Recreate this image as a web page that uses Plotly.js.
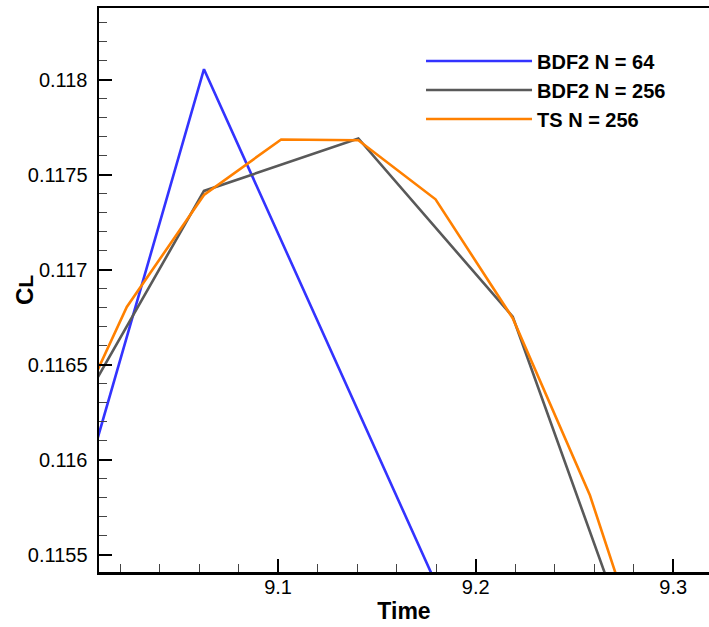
<!DOCTYPE html>
<html>
<head>
<meta charset="utf-8">
<script src="https://cdn.plot.ly/plotly-3.0.1.min.js"></script>
<style>
  html, body { margin: 0; padding: 0; background: #ffffff; }
  #chart { width: 709px; height: 627px; }
</style>
</head>
<body>
<div id="chart"></div>
<script>
// ---- data ----
const seriesNames = ['BDF2 N = 64', 'BDF2 N = 256', 'TS N = 256'];

const timeBDF2_64 = [8.9375, 9.0625, 9.1875];
const clBDF2_64   = [0.113544, 0.118056, 0.115173];

const timeBDF2_256 = [8.984375, 9.0625, 9.140625, 9.21875, 9.296875];
const clBDF2_256   = [0.115989, 0.117415, 0.117691, 0.116753, 0.114490];

const timeTS_256 = [8.984375, 9.0234375, 9.0625, 9.1015625, 9.140625, 9.1796875, 9.21875, 9.2578125, 9.296875];
const clTS_256   = [0.115925, 0.116804, 0.117394, 0.117686, 0.117682, 0.117371, 0.116745, 0.115813, 0.114578];

const xTickVals = [9.1, 9.2, 9.3];
const xTickText = ['9.1', '9.2', '9.3'];
const yTickVals = [0.1155, 0.116, 0.1165, 0.117, 0.1175, 0.118];
const yTickText = ['0.1155', '0.116', '0.1165', '0.117', '0.1175', '0.118'];

const colors = ['#3333ff', '#595959', '#ff8000'];

const traces = [
  { x: timeBDF2_64,  y: clBDF2_64,  name: seriesNames[0], mode: 'lines', line: { color: colors[0], width: 2.6 } },
  { x: timeBDF2_256, y: clBDF2_256, name: seriesNames[1], mode: 'lines', line: { color: colors[1], width: 2.6 } },
  { x: timeTS_256,   y: clTS_256,   name: seriesNames[2], mode: 'lines', line: { color: colors[2], width: 2.6 } }
];

const tickFont = { family: 'Liberation Sans, Arial, sans-serif', size: 20, color: '#000' };

const layout = {
  width: 709,
  height: 627,
  margin: { l: 99, r: 0, t: 8, b: 55, pad: 0 },
  paper_bgcolor: '#ffffff',
  plot_bgcolor: '#ffffff',
  showlegend: true,
  legend: {
    x: 0.5279, y: 0.9406, xanchor: 'left', yanchor: 'top',
    bgcolor: 'rgba(0,0,0,0)', borderwidth: 0,
    itemwidth: 106,
    font: { family: 'Liberation Sans, Arial, sans-serif', size: 20, color: '#000', weight: 'bold' }
  },
  xaxis: {
    range: [9.00937, 9.31808],
    tickmode: 'array', tickvals: xTickVals, ticktext: xTickText,
    ticks: 'inside', ticklen: 13, tickwidth: 2, tickcolor: '#000',
    minor: { dtick: 0.02, tick0: 9.0, ticks: 'inside', ticklen: 8, tickwidth: 1, tickcolor: '#444', showgrid: false },
    showline: true, linecolor: '#000', linewidth: 2.5, mirror: true,
    showgrid: false, zeroline: false,
    tickfont: tickFont,
    ticklabelstandoff: -5,
    title: { text: 'Time', font: { family: 'Liberation Sans, Arial, sans-serif', size: 23, color: '#000', weight: 'bold' }, standoff: 7 }
  },
  yaxis: {
    range: [0.115409, 0.118378],
    tickmode: 'array', tickvals: yTickVals, ticktext: yTickText,
    ticks: 'inside', ticklen: 13, tickwidth: 2, tickcolor: '#000',
    minor: { dtick: 0.0001, tick0: 0.1155, ticks: 'inside', ticklen: 8, tickwidth: 1, tickcolor: '#444', showgrid: false },
    showline: true, linecolor: '#000', linewidth: 2.5, mirror: false,
    showgrid: false, zeroline: false,
    tickfont: tickFont,
    ticklabelstandoff: 5
  },
  annotations: [
    {
      text: 'C<span style="font-size:21px">L</span>',
      xref: 'paper', yref: 'paper', x: -0.123, y: 0.5,
      xanchor: 'center', yanchor: 'middle', textangle: -90, showarrow: false,
      font: { family: 'Liberation Sans, Arial, sans-serif', size: 24, color: '#000', weight: 'bold' }
    }
  ]
};

Plotly.newPlot('chart', traces, layout, { staticPlot: true, displayModeBar: false });
</script>
</body>
</html>
